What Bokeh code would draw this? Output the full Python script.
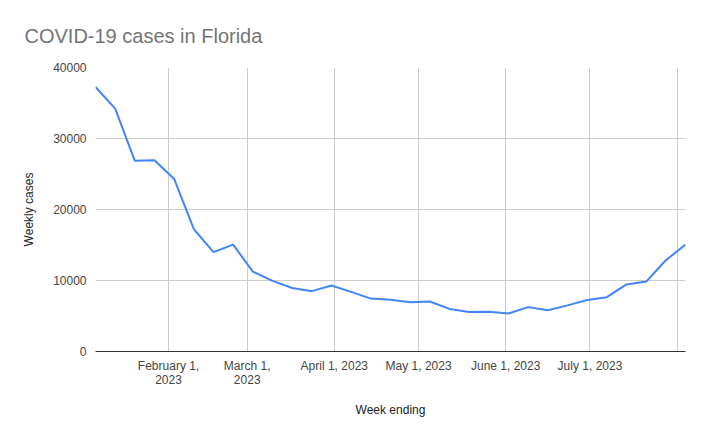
import pandas as pd
from bokeh.plotting import figure
from bokeh.models import FixedTicker, ColumnDataSource, Range1d, Title
from bokeh.embed import file_html
from bokeh.resources import INLINE

week_ending = ["2023-01-06", "2023-01-13", "2023-01-20", "2023-01-27", "2023-02-03",
               "2023-02-10", "2023-02-17", "2023-02-24", "2023-03-03", "2023-03-10",
               "2023-03-17", "2023-03-24", "2023-03-31", "2023-04-07", "2023-04-14",
               "2023-04-21", "2023-04-28", "2023-05-05", "2023-05-12", "2023-05-19",
               "2023-05-26", "2023-06-02", "2023-06-09", "2023-06-16", "2023-06-23",
               "2023-06-30", "2023-07-07", "2023-07-14", "2023-07-21", "2023-07-28",
               "2023-08-04"]
weekly_cases = [37250, 34200, 26850, 26950, 24300, 17250, 14000, 15050, 11250, 9950,
                8950, 8500, 9300, 8400, 7450, 7300, 6950, 7050, 6000, 5550,
                5600, 5350, 6250, 5800, 6500, 7250, 7650, 9450, 9850, 12850,
                15050]
tick_dates = ["2023-02-01", "2023-03-01", "2023-04-01", "2023-05-01", "2023-06-01",
              "2023-07-01", "2023-08-01"]
tick_labels = ["February 1,\n2023", "March 1,\n2023", "April 1, 2023", "May 1, 2023",
               "June 1, 2023", "July 1, 2023", ""]
y_ticks = [0, 10000, 20000, 30000, 40000]

origin = pd.Timestamp("2023-01-01")
def day_num(s):
    return float((pd.Timestamp(s) - origin).days)

xs = [day_num(d) for d in week_ending]
tx = [day_num(d) for d in tick_dates]

src = ColumnDataSource(dict(x=xs, y=weekly_cases))

FONT = "Liberation Sans"
p = figure(width=708, height=440, output_backend="svg", toolbar_location=None,
           x_range=Range1d(xs[0], xs[-1]), y_range=Range1d(0, 40000),
           min_border_left=95, min_border_right=23, min_border_top=67, min_border_bottom=89)
p.outline_line_color = None
p.background_fill_color = "white"
p.border_fill_color = "white"

p.line("x", "y", source=src, line_color="#4285F4", line_width=2)

p.xaxis.ticker = FixedTicker(ticks=tx)
p.xaxis.major_label_overrides = {t: l for t, l in zip(tx, tick_labels)}
p.yaxis.ticker = FixedTicker(ticks=y_ticks)
p.yaxis.formatter.use_scientific = False

for ax in (p.xaxis[0], p.yaxis[0]):
    ax.major_tick_line_color = None
    ax.minor_tick_line_color = None
    ax.major_label_text_font = FONT
    ax.major_label_text_font_size = "12px"
    ax.major_label_text_color = "#444444"
    ax.axis_label_text_font = FONT
    ax.axis_label_text_font_size = "12px"
    ax.axis_label_text_color = "#222222"
    ax.axis_label_text_font_style = "normal"

p.xaxis.major_label_text_line_height = 1.0
p.yaxis.axis_line_color = None
p.xaxis.axis_line_color = "#333333"
p.xaxis.axis_line_width = 1
p.xaxis.axis_label = "Week ending"
p.yaxis.axis_label = "Weekly cases"
p.xaxis.major_label_standoff = 1
p.xaxis.axis_label_standoff = 13
p.yaxis.major_label_standoff = 3
p.yaxis.axis_label_standoff = 14

p.xgrid.ticker = FixedTicker(ticks=tx)
p.ygrid.ticker = FixedTicker(ticks=y_ticks)
p.xgrid.grid_line_color = "#cccccc"
p.ygrid.grid_line_color = "#cccccc"

t = Title(text="COVID-19 cases in Florida", text_font=FONT, text_font_size="20px",
          text_color="#757575", text_font_style="normal", offset=-71, standoff=42)
p.add_layout(t, "above")

open("out.html", "w").write(file_html(p, INLINE))
